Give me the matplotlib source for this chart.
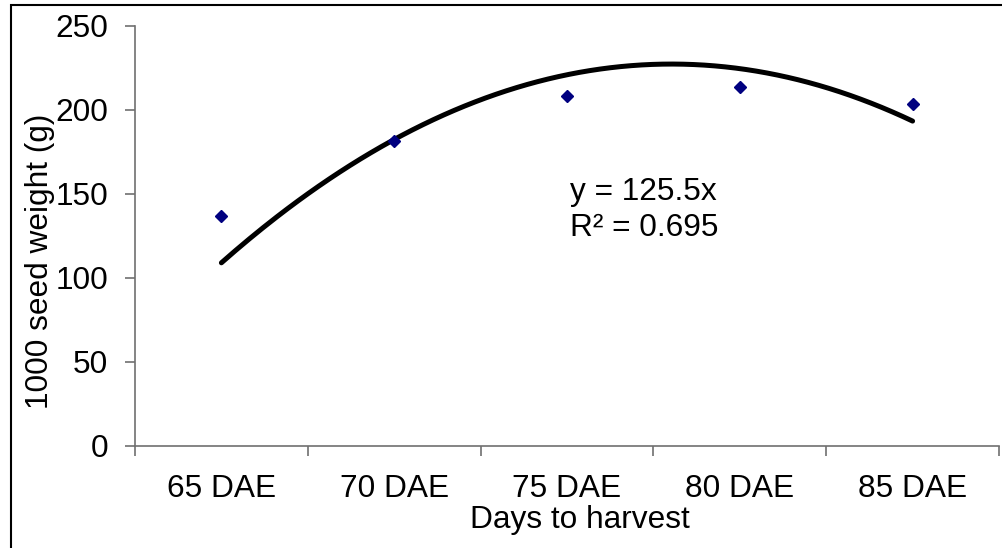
import numpy as np
import matplotlib
matplotlib.use('Agg')
import matplotlib.pyplot as plt
from matplotlib.patches import Rectangle

plt.rcParams['font.family'] = ['Liberation Sans', 'DejaVu Sans']

# data
categories = ['65 DAE', '70 DAE', '75 DAE', '80 DAE', '85 DAE']
seed_weight = [136.8, 181.2, 207.9, 213.6, 203.1]
# trend line height read at each category centre (2nd order polynomial)
trend_read = [108.6, 182.4, 220.8, 223.9, 193.3]
eq_line1 = 'y = 125.5x'
eq_line2 = 'R² = 0.695'

FS = 22.8
W, H = 1003, 548
fig = plt.figure(figsize=(W / 100, H / 100), dpi=100)
ax = fig.add_axes([135 / W, 1 - 445.5 / H, 864 / W, 420 / H])

x = np.arange(1, len(categories) + 1)

# trend line
coef = np.polyfit(x, trend_read, 2)
xs = np.linspace(1, 5, 200)
ax.plot(xs, np.polyval(coef, xs), color='black', lw=3.6,
        solid_capstyle='round', zorder=2)

# points
ax.plot(x, seed_weight, ls='none', marker='D', ms=6, color='#000080',
        mec='#000080', zorder=3)

ax.text(3.015, 146.1, eq_line1, fontsize=FS, va='baseline', ha='left')
ax.text(3.015, 124.7, eq_line2, fontsize=FS, va='baseline', ha='left')

ax.set_xlim(0.5, 5.5)
ax.set_ylim(0, 250)
ax.set_yticks(np.arange(0, 251, 50))
ax.set_xticks(np.arange(0.5, 5.6, 1))
ax.set_xticklabels([])
ax.set_xticks(x, minor=True)
ax.set_xticklabels(categories, minor=True)

for s in ['top', 'right']:
    ax.spines[s].set_visible(False)
for s in ['left', 'bottom']:
    ax.spines[s].set_color('#707070')
    ax.spines[s].set_linewidth(1.2)

ax.tick_params(axis='y', which='major', direction='out', length=7.2, width=1.2,
               color='#707070', labelsize=FS, pad=12.3)
ax.tick_params(axis='x', which='major', direction='out', length=7.2, width=1.2,
               color='#707070')
ax.tick_params(axis='x', which='minor', length=0, labelsize=FS, pad=20.2)

ax.set_ylabel('1000 seed weight (g)', fontsize=FS, va='center')
ax.yaxis.set_label_coords(-0.110, 0.439)
ax.set_xlabel('Days to harvest', fontsize=FS, va='baseline')
ax.xaxis.set_label_coords(0.515, -0.196)

# outer chart frame
fig.patches.append(Rectangle((11 / W, -0.05), 1.2, 1 - 5 / H + 0.05,
                             transform=fig.transFigure, fill=False,
                             edgecolor='black', lw=1.5))

fig.savefig('out.png', dpi=100)
